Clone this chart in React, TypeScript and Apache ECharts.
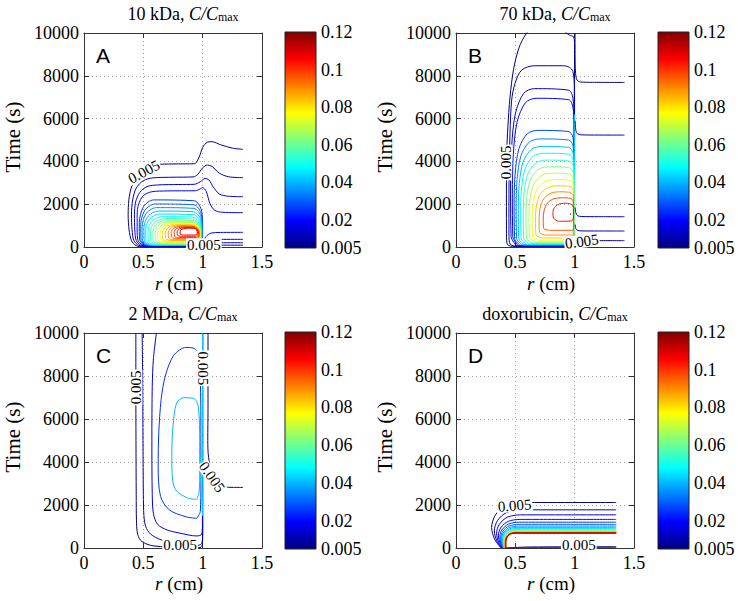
import React, { useEffect, useRef } from 'react';
import * as echarts from 'echarts';

// ---------- axes / ticks ----------
const xMin = 0, xMax = 1.5, xStep = 0.5;
const yMin = 0, yMax = 10000, yStep = 2000;
const cbMin = 0.005, cbMax = 0.12;
const cbTicks = [0.005, 0.02, 0.04, 0.06, 0.08, 0.1, 0.12];
const panelNames = ['10 kDa', '70 kDa', '2 MDa', 'doxorubicin'];
const panelLetters = ['A', 'B', 'C', 'D'];

// ---------- contour lines: [level C/Cmax, [[r (cm), time (s)], ...]] ----------
const contoursA: [number, number[][]][] = [
  [0.005, [[1.34,85],[1.15,85],[1.05,70],[1.0,40],[0.95,20],[0.7,15],[0.5,15],[0.44,60],[0.40,300],[0.38,800],[0.372,1500],[0.378,2200],[0.40,2800],[0.45,3350],[0.52,3700],[0.6,3850],[0.75,3880],[0.93,3890],[0.97,4200],[1.0,4650],[1.04,4900],[1.08,4920],[1.15,4780],[1.25,4620],[1.34,4565]]],
  [0.01, [[1.34,200],[1.15,195],[1.06,170],[1.01,100],[0.97,35],[0.7,30],[0.52,30],[0.46,80],[0.42,300],[0.405,800],[0.40,1500],[0.41,2200],[0.44,2750],[0.5,3100],[0.58,3230],[0.75,3260],[0.92,3275],[0.96,3400],[1.0,3700],[1.04,3830],[1.08,3760],[1.14,3450],[1.22,3280],[1.34,3240]]],
  [0.015, [[1.34,358],[1.15,355],[1.06,320],[1.02,200],[0.98,55],[0.7,45],[0.53,45],[0.475,100],[0.44,300],[0.428,800],[0.425,1500],[0.435,2100],[0.47,2550],[0.53,2820],[0.62,2900],[0.8,2920],[0.93,2930],[0.98,3050],[1.02,3200],[1.05,3150],[1.09,2800],[1.14,2480],[1.22,2370],[1.34,2352]]],
  [0.02, [[1.34,685],[1.15,680],[1.07,650],[1.03,500],[1.0,200],[0.98,70],[0.7,60],[0.54,60],[0.49,120],[0.455,300],[0.448,800],[0.448,1500],[0.46,2000],[0.5,2400],[0.57,2580],[0.7,2620],[0.94,2630],[0.98,2720],[1.0,2780],[1.03,2600],[1.06,2050],[1.1,1720],[1.17,1620],[1.34,1604]]],
  [0.025, [[.516,66],[.469,322],[.466,1133],[.501,1880],[.586,2200],[.93,2157],[.992,1666],[1.0,706],[.975,66],[.516,66]]],
  [0.03, [[.528,72],[.481,305],[.478,1041],[.513,1719],[.598,2010],[.927,1971],[.989,1526],[.997,653],[.972,72],[.528,72]]],
  [0.035, [[.54,78],[.493,289],[.49,959],[.525,1576],[.61,1840],[.925,1805],[.987,1400],[.995,607],[.97,78],[.54,78]]],
  [0.04, [[.555,85],[.508,276],[.505,882],[.54,1441],[.625,1680],[.922,1648],[.984,1281],[.992,563],[.967,85],[.555,85]]],
  [0.045, [[.57,95],[.523,268],[.52,817],[.555,1323],[.64,1540],[.92,1511],[.982,1179],[.99,528],[.965,95],[.57,95]]],
  [0.05, [[.59,105],[.543,263],[.54,762],[.575,1223],[.66,1420],[.917,1394],[.979,1091],[.987,500],[.962,105],[.59,105]]],
  [0.055, [[.61,120],[.563,265],[.56,725],[.595,1149],[.68,1330],[.915,1306],[.977,1028],[.985,483],[.96,120],[.61,120]]],
  [0.06, [[.63,140],[.583,274],[.58,700],[.615,1092],[.70,1260],[.912,1238],[.974,980],[.982,476],[.957,140],[.63,140]]],
  [0.065, [[.65,170],[.603,294],[.60,685],[.635,1046],[.72,1200],[.91,1179],[.972,943],[.98,479],[.955,170],[.65,170]]],
  [0.07, [[.67,195],[.623,310],[.62,673],[.655,1007],[.74,1150],[.91,1131],[.972,911],[.98,482],[.955,195],[.67,195]]],
  [0.075, [[.69,225],[.643,331],[.64,668],[.675,977],[.76,1110],[.908,1092],[.97,889],[.978,491],[.953,225],[.69,225]]],
  [0.08, [[.705,260],[.663,357],[.66,665],[.692,949],[.77,1070],[.905,1054],[.967,868],[.975,503],[.95,260],[.705,260]]],
  [0.085, [[.725,300],[.688,388],[.685,668],[.715,925],[.79,1035],[.905,1020],[.967,851],[.975,521],[.95,300],[.725,300]]],
  [0.09, [[.745,340],[.713,419],[.71,670],[.738,901],[.81,1000],[.905,987],[.962,835],[.97,538],[.948,340],[.745,340]]],
  [0.095, [[.77,390],[.738,460],[.735,680],[.76,883],[.83,970],[.91,958],[.962,825],[.97,564],[.948,390],[.77,390]]],
  [0.1, [[.79,440],[.763,500],[.76,690],[.782,865],[.85,940],[.915,930],[.958,815],[.965,590],[.945,440],[.79,440]]],
  [0.105, [[.81,500],[.788,549],[.785,705],[.805,849],[.865,910],[.92,902],[.953,808],[.96,623],[.942,500],[.81,500]]],
  [0.11, [[.835,560],[.812,598],[.81,720],[.826,832],[.88,880],[.925,874],[.949,800],[.955,656],[.94,560],[.835,560]]],
];

const contoursB: [number, number[][]][] = [
  [0.005, [[.99,30],[.475,30],[.43,150],[.425,800],[.425,3000],[.428,4500],[.437,5600],[.455,7000],[.485,8300],[.53,9300],[.59,9950],[.66,10300],[.88,10300],[.93,10000],[.965,9880],[.99,9830],[.999,9500],[.999,5000],[.998,1000],[.995,200],[.99,30]]],
  [0.01, [[.99,40],[.495,40],[.45,200],[.446,800],[.447,3000],[.455,5300],[.469,6860],[.497,7640],[.553,8266],[.66,8470],[.9,8470],[.955,8400],[.985,8200],[.997,7500],[.997,1500],[.993,150],[.99,40]]],
  [0.015, [[.51,50],[.464,491],[.46,2623],[.468,4607],[.50,6224],[.57,7180],[.66,7400],[.95,7327],[.985,6959],[.996,5930],[.996,1520],[.99,50],[.51,50]]],
  [0.02, [[.525,60],[.479,473],[.475,2472],[.483,4332],[.515,5848],[.585,6743],[.675,6950],[.95,6881],[.985,6537],[.996,5572],[.996,1438],[.99,60],[.525,60]]],
  [0.027, [[.54,75],[.494,398],[.49,1956],[.498,3408],[.53,4590],[.60,5289],[.69,5450],[.95,5396],[.985,5128],[.995,4375],[.995,1150],[.99,75],[.54,75]]],
  [0.034, [[.557,90],[.511,388],[.507,1826],[.515,3165],[.547,4256],[.617,4901],[.707,5050],[.95,5000],[.985,4752],[.995,4058],[.995,1082],[.99,90],[.557,90]]],
  [0.041, [[.575,110],[.529,385],[.525,1717],[.533,2956],[.565,3966],[.635,4562],[.725,4700],[.95,4654],[.985,4425],[.994,3782],[.994,1028],[.99,110],[.575,110]]],
  [0.045, [[1.0,50],[1.0,6200]]],
  [0.048, [[.595,135],[.549,390],[.545,1621],[.553,2767],[.585,3701],[.655,4252],[.745,4380],[.95,4338],[.985,4125],[.994,3531],[.994,984],[.99,135],[.595,135]]],
  [0.055, [[.617,165],[.571,399],[.567,1528],[.575,2580],[.607,3437],[.677,3943],[.767,4060],[.95,4021],[.985,3826],[.993,3281],[.993,944],[.988,165],[.617,165]]],
  [0.062, [[.64,200],[.594,413],[.59,1443],[.598,2401],[.63,3182],[.70,3644],[.79,3750],[.95,3715],[.985,3537],[.993,3040],[.993,910],[.988,200],[.64,200]]],
  [0.069, [[.665,250],[.619,442],[.615,1370],[.623,2234],[.655,2938],[.725,3354],[.815,3450],[.95,3418],[.984,3258],[.992,2810],[.992,890],[.987,250],[.665,250]]],
  [0.076, [[.692,320],[.646,490],[.642,1311],[.65,2075],[.682,2697],[.752,3065],[.842,3150],[.95,3122],[.984,2980],[.992,2584],[.992,886],[.987,320],[.692,320]]],
  [0.083, [[.72,420],[.674,566],[.67,1274],[.678,1933],[.71,2470],[.78,2787],[.86,2860],[.95,2836],[.983,2714],[.991,2372],[.991,908],[.986,420],[.72,420]]],
  [0.09, [[.75,560],[.704,681],[.70,1267],[.708,1812],[.74,2257],[.80,2519],[.875,2580],[.95,2560],[.983,2459],[.99,2176],[.99,964],[.985,560],[.75,560]]],
  [0.097, [[.78,780],[.739,871],[.735,1312],[.743,1722],[.77,2057],[.825,2254],[.89,2300],[.95,2285],[.982,2209],[.99,1996],[.99,1084],[.984,780],[.78,780]]],
  [0.104, [[.86,1200],[.822,1350],[.817,1600],[.83,1850],[.88,2030],[.93,2045],[.975,1980],[.99,1800],[.99,1400],[.975,1220],[.86,1200]]],
  [0.11, [[.962,1525],[.962,1555],[.97,1555],[.97,1525],[.962,1525]]],
  // outer region r > 1
  [0.005, [[1.003,10000],[1.004,8600],[1.008,8100],[1.02,7800],[1.05,7710],[1.15,7695],[1.42,7690]]],
  [0.01, [[1.004,5900],[1.01,5450],[1.025,5290],[1.06,5240],[1.2,5232],[1.42,5230]]],
  [0.015, [[1.004,1850],[1.01,1600],[1.025,1460],[1.06,1425],[1.2,1418],[1.42,1416]]],
  [0.01, [[1.004,1050],[1.01,860],[1.025,775],[1.06,752],[1.2,748],[1.42,747]]],
  [0.005, [[1.004,500],[1.01,370],[1.025,315],[1.06,300],[1.2,297],[1.42,296]]],
];

const contoursC: [number, number[][]][] = [
  [0.005, [[0.437,10000],[0.437,7500],[0.438,5000],[0.44,2500],[0.442,1300],[0.45,700],[0.475,370],[0.53,180],[0.59,95],[0.7,50],[0.95,15],[0.995,80],[1.0,700],[1.0,10000]]],
  [0.01, [[0.49,10000],[0.495,7500],[0.497,5000],[0.5,2500],[0.505,1500],[0.52,1000],[0.56,650],[0.65,380],[0.8,200],[0.96,120],[0.995,250],[1.0,1000],[1.0,10000]]],
  [0.015, [[0.61,10000],[0.585,8800],[0.575,7500],[0.572,5000],[0.575,2500],[0.585,1600],[0.62,1100],[0.7,840],[0.8,700],[0.95,560],[0.993,650],[0.998,1200],[0.999,10000]]],
  [0.025, [[0.95,1380],[0.86,1450],[0.72,1770],[0.645,2400],[0.625,3800],[0.63,5350],[0.65,6900],[0.685,8000],[0.756,8960],[0.86,9330],[0.92,9300],[0.955,9150],[0.975,8500],[0.985,6000],[0.985,3000],[0.98,1700],[0.95,1380]]],
  [0.04, [[0.95,2260],[0.87,2330],[0.77,2720],[0.742,3500],[0.74,4400],[0.75,5650],[0.78,6740],[0.84,6990],[0.9,6980],[0.94,6900],[0.965,6500],[0.975,5000],[0.975,3600],[0.97,2600],[0.95,2260]]],
  [0.045, [[0.998,4700],[0.99,4400],[0.984,3900],[0.988,3000],[0.995,2000],[0.998,1500]]],
  [0.045, [[0.998,10000],[0.998,6000],[0.997,3000],[0.998,1500]]],
  [0.005, [[1.045,10000],[1.045,6500],[1.043,5000],[1.05,4200],[1.075,3600],[1.11,3100],[1.14,2880],[1.18,2830],[1.26,2820],[1.34,2817]]],
];

const contoursD: [number, number[][]][] = [
  [0.005, [[1.35,2117],[.56,2117],[.417,1969],[.331,1524],[.30,953],[.328,381],[.38,0]]],
  [0.01, [[1.35,1774],[.55,1774],[.425,1650],[.35,1277],[.323,798],[.345,319],[.385,0]]],
  [0.015, [[1.35,1541],[.545,1541],[.433,1433],[.366,1110],[.342,693],[.358,277],[.389,0]]],
  [0.02, [[1.35,1330],[.54,1330],[.439,1237],[.379,958],[.357,599],[.37,239],[.393,0]]],
  [0.025, [[1.35,1200],[.535,1200],[.444,1116],[.389,864],[.369,540],[.378,216],[.396,0]]],
  [0.03, [[1.35,1100],[.53,1100],[.446,1023],[.396,792],[.378,495],[.385,198],[.399,0]]],
  [0.035, [[1.35,1020],[.527,1020],[.449,949],[.402,734],[.385,459],[.391,184],[.401,0]]],
  [0.04, [[1.35,960],[.524,960],[.451,893],[.407,691],[.391,432],[.395,173],[.403,0]]],
  [0.045, [[1.35,910],[.521,910],[.452,846],[.411,655],[.396,410],[.399,164],[.405,0]]],
  [0.05, [[1.35,870],[.518,870],[.453,809],[.414,626],[.40,392],[.402,157],[.407,0]]],
  [0.055, [[1.35,840],[.515,840],[.453,781],[.416,605],[.403,378],[.405,151],[.408,0]]],
  [0.06, [[1.35,815],[.513,815],[.454,758],[.419,587],[.406,367],[.407,147],[.409,0]]],
  [0.065, [[1.35,795],[.511,795],[.454,739],[.42,572],[.408,358],[.409,143],[.41,0]]],
  [0.07, [[1.35,778],[.509,778],[.455,724],[.422,560],[.41,350],[.41,140],[.411,0]]],
  [0.075, [[1.35,763],[.507,763],[.455,710],[.423,549],[.412,343],[.412,137],[.412,0]]],
  [0.08, [[1.35,750],[.506,750],[.455,698],[.424,540],[.413,338],[.413,135],[.413,0]]],
  [0.085, [[1.35,739],[.505,739],[.455,687],[.425,532],[.414,333],[.414,133],[.414,0]]],
  [0.09, [[1.35,729],[.504,729],[.455,678],[.426,525],[.415,328],[.415,131],[.415,0]]],
  [0.095, [[1.35,720],[.503,720],[.455,670],[.426,518],[.416,324],[.416,130],[.416,0]]],
  [0.1, [[1.35,712],[.502,712],[.455,662],[.427,513],[.417,320],[.417,128],[.417,0]]],
  [0.105, [[1.35,705],[.501,705],[.455,656],[.428,508],[.418,317],[.418,127],[.418,0]]],
  [0.11, [[1.35,698],[.50,698],[.455,649],[.429,503],[.419,314],[.419,126],[.419,0]]],
  [0.115, [[1.35,692],[.50,692],[.456,644],[.43,498],[.42,311],[.42,125],[.42,0]]],
  [0.005, [[0.42,0],[0.6,45],[1.0,55],[1.35,60]]],
  [0.115, [[0.43,0],[0.6,15],[1.35,15]]],
];

// inline contour labels: [r, t]
const labelsA = [[0.505, 3520], [1.01, 110]];
const labelsB = [[0.418, 3950], [1.06, 260]];
const labelsC = [[0.437, 7470], [1.002, 8360], [1.078, 3300], [0.81, 120]];
const labelsD = [[0.494, 1977], [1.035, 140]];
const labelText = '0.005';

const labelRot = [[28, 0], [90, 8], [90, -90, -55, 0], [4, 0]];
const plotBoxes = [[84, 33, 178, 214], [456, 33, 178, 214], [84, 333, 178, 215], [456, 333, 178, 215]];
const cbBoxes = [[285, 32, 31, 216], [658, 32, 31, 216], [285, 332, 31, 217], [658, 332, 31, 217]];

function jet(v: number) {
  const n = Math.min(1, Math.max(0, (v - cbMin) / (cbMax - cbMin)));
  const f = (c: number) => Math.round(255 * Math.min(1, Math.max(0, 1.5 - Math.abs(4 * n - c))));
  return `rgb(${f(3)},${f(2)},${f(1)})`;
}

const jetStops = [
  { offset: 0, color: '#000080' },
  { offset: 0.125, color: '#0000ff' },
  { offset: 0.375, color: '#00ffff' },
  { offset: 0.625, color: '#ffff00' },
  { offset: 0.875, color: '#ff0000' },
  { offset: 1, color: '#800000' },
];

const AX = '#333';
const SERIF = 'Liberation Serif';

export default function App() {
  const ref = useRef<HTMLDivElement>(null);
  useEffect(() => {
    if (!ref.current) return;
    const chart = echarts.init(ref.current, undefined, { renderer: 'svg' });
    const allContours = [contoursA, contoursB, contoursC, contoursD];
    const allLabels = [labelsA, labelsB, labelsC, labelsD];

    const grid: any[] = [];
    plotBoxes.forEach(b => grid.push({ left: b[0], top: b[1], width: b[2], height: b[3] }));
    cbBoxes.forEach(b => grid.push({ left: b[0], top: b[1], width: b[2], height: b[3] }));

    const tickLab = { fontFamily: SERIF, fontSize: 18, color: '#000' };
    const gridLine = { show: true, lineStyle: { color: '#a8a8a8', type: [1, 3], width: 1 } };
    const xAxis: any[] = [];
    const yAxis: any[] = [];
    for (let i = 0; i < 4; i++) {
      xAxis.push({
        type: 'value', gridIndex: i, min: xMin, max: xMax, interval: xStep,
        axisLine: { show: true, onZero: false, lineStyle: { color: AX } },
        axisTick: { show: true, inside: true, length: 5, lineStyle: { color: AX } },
        axisLabel: { ...tickLab, margin: 6, formatter: (v: number) => String(v) },
        splitLine: gridLine,
      });
    }
    for (let i = 0; i < 4; i++) {
      xAxis.push({
        type: 'value', gridIndex: i, position: 'top', min: xMin, max: xMax, interval: xStep,
        axisLine: { show: true, onZero: false, lineStyle: { color: AX } },
        axisTick: { show: true, inside: true, length: 5, lineStyle: { color: AX } },
        axisLabel: { show: false }, splitLine: { show: false },
      });
    }
    for (let i = 0; i < 4; i++) {
      xAxis.push({ type: 'value', gridIndex: 4 + i, min: 0, max: 1, show: false });
    }
    for (let i = 0; i < 4; i++) {
      yAxis.push({
        type: 'value', gridIndex: i, min: yMin, max: yMax, interval: yStep,
        axisLine: { show: true, onZero: false, lineStyle: { color: AX } },
        axisTick: { show: true, inside: true, length: 5, lineStyle: { color: AX } },
        axisLabel: { ...tickLab, margin: 5, formatter: (v: number) => String(v) },
        splitLine: gridLine,
      });
    }
    for (let i = 0; i < 4; i++) {
      yAxis.push({
        type: 'value', gridIndex: i, position: 'right', min: yMin, max: yMax, interval: yStep,
        axisLine: { show: true, onZero: false, lineStyle: { color: AX } },
        axisTick: { show: true, inside: true, length: 5, lineStyle: { color: AX } },
        axisLabel: { show: false }, splitLine: { show: false },
      });
    }
    for (let i = 0; i < 4; i++) {
      yAxis.push({
        type: 'value', gridIndex: 4 + i, position: 'right', min: cbMin, max: cbMax,
        axisLine: { show: false }, axisTick: { show: false }, splitLine: { show: false },
        axisLabel: { ...tickLab, margin: 5, customValues: cbTicks, formatter: (v: number) => String(v) },
      });
    }

    const series: any[] = [];
    allContours.forEach((list, i) => {
      list.forEach(([lv, pts]) => {
        series.push({
          type: 'line', xAxisIndex: i, yAxisIndex: i, data: pts,
          showSymbol: false, symbol: 'none', smooth: 0.3, clip: true, silent: true,
          lineStyle: { color: jet(lv), width: 1 }, z: 3,
        });
      });
    });
    allLabels.forEach((list, i) => {
      list.forEach((p, j) => {
        series.push({
          type: 'scatter', xAxisIndex: i, yAxisIndex: i, data: [p], symbolSize: 1,
          itemStyle: { color: 'rgba(0,0,0,0)' }, silent: true, z: 6, clip: false,
          label: {
            show: true, position: 'inside', formatter: labelText, rotate: labelRot[i][j],
            fontFamily: SERIF, fontSize: 15, lineHeight: 13, color: '#000', opacity: 1,
            backgroundColor: '#fff', padding: [0, 1],
          },
        });
      });
    });
    for (let i = 0; i < 4; i++) {
      series.push({
        type: 'custom', xAxisIndex: 8 + i, yAxisIndex: 8 + i, data: [[0.5, 0.06]], silent: true,
        renderItem: (_p: any, api: any) => {
          const p0 = api.coord([0, cbMax]);
          const p1 = api.coord([1, cbMin]);
          return {
            type: 'rect',
            shape: { x: p0[0], y: p0[1], width: p1[0] - p0[0], height: p1[1] - p0[1] },
            style: { fill: new echarts.graphic.LinearGradient(0, 1, 0, 0, jetStops), stroke: '#222', lineWidth: 1 },
          };
        },
      });
    }

    const elements: any[] = [];
    plotBoxes.forEach((b, i) => {
      const [x0, y0] = b;
      elements.push({
        type: 'text', x: x0 + 99, y: y0 - 19,
        style: {
          text: `${panelNames[i]}, {i|C/C}{s|max}`, fill: '#000', fontFamily: SERIF, fontSize: 18,
          align: 'center', verticalAlign: 'middle', textAlign: 'center', textVerticalAlign: 'middle', lineHeight: 18,
          rich: {
            i: { fontFamily: SERIF, fontSize: 18, fontStyle: 'italic', fill: '#000', lineHeight: 18 },
            s: { fontFamily: SERIF, fontSize: 12, fill: '#000', lineHeight: 6, verticalAlign: 'bottom' },
          },
        },
      });
      elements.push({
        type: 'text', x: x0 + 95, y: y0 + 250,
        style: {
          text: '{i|r} (cm)', fill: '#000', fontFamily: SERIF, fontSize: 19,
          align: 'center', verticalAlign: 'middle', textAlign: 'center', textVerticalAlign: 'middle',
          rich: { i: { fontFamily: SERIF, fontSize: 19, fontStyle: 'italic', fill: '#000' } },
        },
      });
      elements.push({
        type: 'text', x: x0 - 71, y: y0 + 104, rotation: Math.PI / 2,
        style: {
          text: 'Time (s)', fill: '#000', fontFamily: SERIF, fontSize: 21,
          align: 'center', verticalAlign: 'middle', textAlign: 'center', textVerticalAlign: 'middle',
        },
      });
      elements.push({
        type: 'text', x: x0 + 12, y: y0 + 22,
        style: {
          text: panelLetters[i], fill: '#000', fontFamily: 'Liberation Sans', fontSize: 21,
          align: 'left', verticalAlign: 'middle', textAlign: 'left', textVerticalAlign: 'middle',
        },
      });
    });

    chart.setOption({
      animation: false,
      backgroundColor: '#fff',
      textStyle: { fontFamily: SERIF },
      grid, xAxis, yAxis, series,
      graphic: { elements },
    });
    return () => chart.dispose();
  }, []);
  return <div ref={ref} style={{ position: 'absolute', left: 0, top: 0, width: 738, height: 601, background: '#fff' }} />;
}
